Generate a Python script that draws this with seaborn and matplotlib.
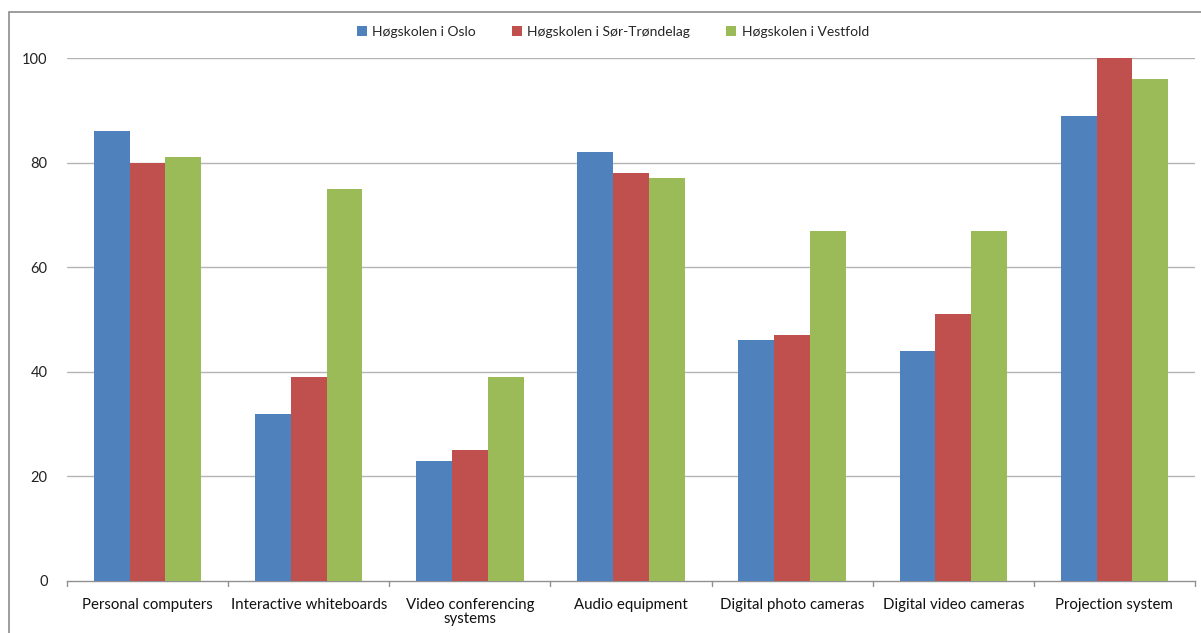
import matplotlib
matplotlib.use("Agg")
import matplotlib.pyplot as plt
import seaborn as sns
import pandas as pd
from matplotlib.patches import Rectangle

categories = ["Personal computers", "Interactive whiteboards", "Video conferencing\nsystems",
              "Audio equipment", "Digital photo cameras", "Digital video cameras",
              "Projection system"]
schools = ["Høgskolen i Oslo", "Høgskolen i Sør-Trøndelag", "Høgskolen i Vestfold"]
oslo = [86, 32, 23, 82, 46, 44, 89]
sor_trondelag = [80, 39, 25, 78, 47, 51, 100]
vestfold = [81, 75, 39, 77, 67, 67, 96]
yticks = [0, 20, 40, 60, 80, 100]

colors = ["#4F81BD", "#C0504D", "#9BBB59"]

rows = []
for school, vals in zip(schools, [oslo, sor_trondelag, vestfold]):
    for cat, v in zip(categories, vals):
        rows.append({"category": cat, "school": school, "value": v})
df = pd.DataFrame(rows)

sns.set_style("white")
plt.rcParams["font.family"] = ["Lato", "DejaVu Sans"]

fig = plt.figure(figsize=(12.01, 6.33), dpi=100)
ax = fig.add_axes([67 / 1201, 1 - 581 / 633, (1195 - 67) / 1201, (581 - 58) / 633])

sns.barplot(data=df, x="category", y="value", hue="school", palette=colors,
            width=3 / 4.5, saturation=1, ax=ax, edgecolor="none", linewidth=0,
            legend=True, zorder=3)

ax.set_xlim(-0.5, len(categories) - 0.5)
ax.set_ylim(0, 100)
ax.set_yticks(yticks)
ax.set_yticklabels([str(t) for t in yticks], fontsize=10.5, color="#222222")
ax.tick_params(axis="y", length=0, pad=14)
ax.tick_params(axis="x", length=0, pad=12, labelsize=10.8, labelcolor="#111111")
for lbl in ax.get_xticklabels():
    lbl.set_linespacing(1.05)
ax.set_xlabel("")
ax.set_ylabel("")

for t in yticks[1:]:
    ax.axhline(t, color="#B4B4B4", linewidth=1.0, zorder=1)

for s in ["top", "right", "left"]:
    ax.spines[s].set_visible(False)
ax.spines["bottom"].set_color("#909090")
ax.spines["bottom"].set_linewidth(1.0)

# Tick marks between categories below the axis line
for b in range(len(categories) + 1):
    ax.plot([b - 0.5, b - 0.5], [0, -1.0], color="#909090", linewidth=1.0,
            clip_on=False, zorder=4)

leg = ax.legend(loc="center", bbox_to_anchor=(613 / 1201, 1 - 32 / 633),
                bbox_transform=fig.transFigure, ncol=3, frameon=False,
                fontsize=10, handlelength=0.7, handleheight=0.7,
                handletextpad=0.4, columnspacing=2.6)

# Outer chart frame
fig.patches.append(Rectangle((9 / 1201, -0.05), 1.2, 1 - 12 / 633 + 0.05,
                             transform=fig.transFigure, fill=False,
                             edgecolor="#8C8C8C", linewidth=1.2))

fig.savefig("out.png", dpi=100)
